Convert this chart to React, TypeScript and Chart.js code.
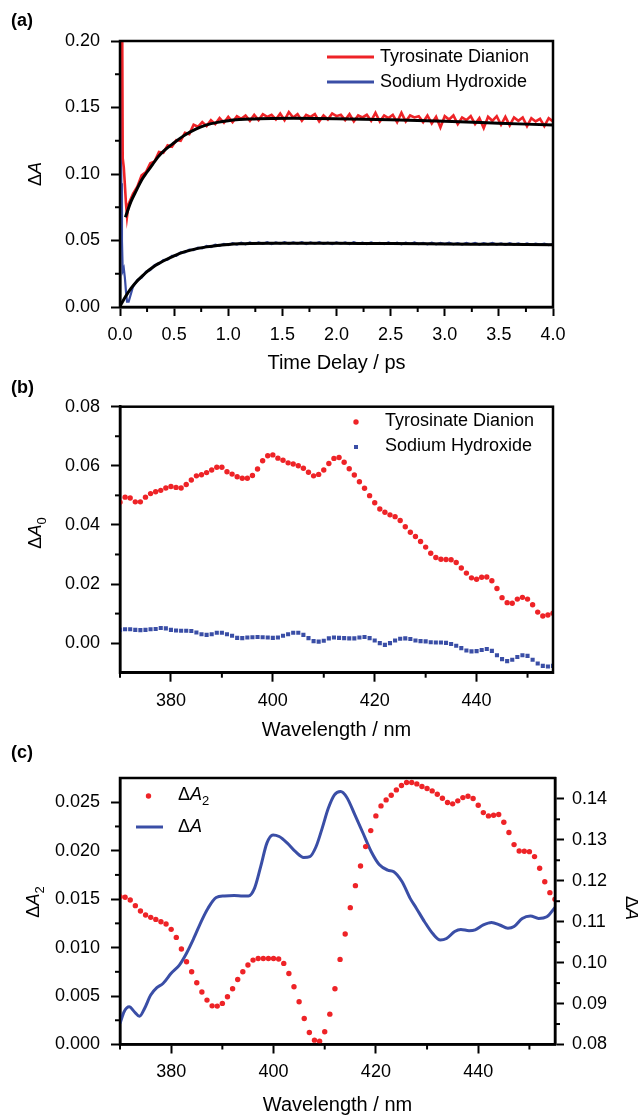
import React, { useEffect, useRef } from 'react';
import { Chart, registerables } from 'chart.js';

Chart.register(...registerables);

const FONT = '"Liberation Sans", Arial, Helvetica, sans-serif';
const RED = '#ee2327';
const BLUE = '#3a4ea6';

// ---------- Panel (a): kinetics ----------
const TIME_EARLY = [0.005, 0.012, 0.018, 0.025, 0.035, 0.045, 0.055, 0.065];
const TIME_MAIN = [
  0.08, 0.12, 0.16, 0.2, 0.24, 0.28, 0.32, 0.36, 0.4, 0.44,
  0.48, 0.52, 0.56, 0.6, 0.64, 0.68, 0.72, 0.76, 0.8, 0.84,
  0.88, 0.92, 0.96, 1, 1.04, 1.08, 1.12, 1.16, 1.2, 1.24,
  1.28, 1.32, 1.36, 1.4, 1.44, 1.48, 1.52, 1.56, 1.6, 1.64,
  1.68, 1.72, 1.76, 1.8, 1.84, 1.88, 1.92, 1.96, 2, 2.04,
  2.08, 2.12, 2.16, 2.2, 2.24, 2.28, 2.32, 2.36, 2.4, 2.44,
  2.48, 2.52, 2.56, 2.6, 2.64, 2.68, 2.72, 2.76, 2.8, 2.84,
  2.88, 2.92, 2.96, 3, 3.04, 3.08, 3.12, 3.16, 3.2, 3.24,
  3.28, 3.32, 3.36, 3.4, 3.44, 3.48, 3.52, 3.56, 3.6, 3.64,
  3.68, 3.72, 3.76, 3.8, 3.84, 3.88, 3.92, 3.96, 4,
];
const TYR_EARLY = [0.30, 0.30, 0.26, 0.112, 0.105, 0.092, 0.078, 0.068];
const TYR_MAIN = [
  0.0775, 0.0850, 0.0905, 0.0990, 0.1015, 0.1080, 0.1095, 0.1165, 0.1160, 0.1215,
  0.1205, 0.1255, 0.1250, 0.1310, 0.1300, 0.1370, 0.1355, 0.1390, 0.1360, 0.1405,
  0.1375, 0.1420, 0.1385, 0.1430, 0.1390, 0.1435, 0.1415, 0.1440, 0.1400, 0.1445,
  0.1405, 0.1450, 0.1430, 0.1445, 0.1410, 0.1455, 0.1405, 0.1465, 0.1425, 0.1450,
  0.1400, 0.1445, 0.1430, 0.1450, 0.1395, 0.1440, 0.1410, 0.1455, 0.1435, 0.1445,
  0.1405, 0.1450, 0.1395, 0.1440, 0.1425, 0.1445, 0.1400, 0.1460, 0.1395, 0.1440,
  0.1420, 0.1445, 0.1390, 0.1460, 0.1395, 0.1440, 0.1425, 0.1435, 0.1390, 0.1440,
  0.1380, 0.1430, 0.1350, 0.1435, 0.1410, 0.1440, 0.1375, 0.1425, 0.1405, 0.1435,
  0.1375, 0.1420, 0.1345, 0.1430, 0.1400, 0.1435, 0.1370, 0.1430, 0.1365, 0.1425,
  0.1400, 0.1425, 0.1360, 0.1420, 0.1395, 0.1415, 0.1360, 0.1420, 0.1395,
];
const NAOH_EARLY = [0.26, 0.093, 0.05, 0.027, 0.029, 0.022, 0.012, 0.004];
const NAOH_MAIN = [
  0.0040, 0.0152, 0.0202, 0.0220, 0.0265, 0.0278, 0.0316, 0.0323, 0.0353, 0.0356,
  0.0384, 0.0385, 0.0411, 0.0411, 0.0432, 0.0428, 0.0447, 0.0441, 0.0459, 0.0451,
  0.0468, 0.0460, 0.0475, 0.0465, 0.0479, 0.0469, 0.0483, 0.0472, 0.0485, 0.0474,
  0.0486, 0.0475, 0.0487, 0.0474, 0.0485, 0.0476, 0.0488, 0.0475, 0.0486, 0.0477,
  0.0487, 0.0474, 0.0485, 0.0476, 0.0488, 0.0475, 0.0484, 0.0473, 0.0486, 0.0476,
  0.0485, 0.0474, 0.0487, 0.0475, 0.0484, 0.0473, 0.0486, 0.0476, 0.0483, 0.0473,
  0.0485, 0.0474, 0.0484, 0.0472, 0.0483, 0.0474, 0.0485, 0.0473, 0.0482, 0.0472,
  0.0483, 0.0471, 0.0482, 0.0473, 0.0484, 0.0472, 0.0481, 0.0470, 0.0482, 0.0472,
  0.0481, 0.0469, 0.0480, 0.0471, 0.0482, 0.0470, 0.0479, 0.0468, 0.0480, 0.0470,
  0.0479, 0.0468, 0.0478, 0.0467, 0.0477, 0.0469, 0.0476, 0.0466, 0.0474,
];
const TYR_FIT_T = [0.05, 0.1, 0.15, 0.2, 0.25, 0.3, 0.35, 0.4, 0.5, 0.6, 0.7, 0.8, 0.9, 1.0, 1.1, 1.2, 1.4, 1.6, 1.8, 2.0, 2.5, 3.0, 3.5, 4.0];
const TYR_FIT = [0.0675, 0.079, 0.0875, 0.0955, 0.1015, 0.1071, 0.1127, 0.117, 0.1235, 0.1293, 0.1338, 0.1369, 0.1388, 0.1401, 0.1409, 0.1414, 0.1418, 0.1419, 0.1418, 0.1416, 0.1408, 0.1396, 0.1382, 0.1368];
const NAOH_FIT_T = [0.0, 0.05, 0.1, 0.15, 0.2, 0.25, 0.3, 0.35, 0.4, 0.5, 0.6, 0.7, 0.8, 0.9, 1.0, 1.1, 1.2, 1.4, 1.6, 1.8, 2.0, 2.5, 3.0, 3.5, 4.0];
const NAOH_FIT = [0.0005, 0.0077, 0.0138, 0.0188, 0.0228, 0.0266, 0.0297, 0.0324, 0.0346, 0.0385, 0.0416, 0.0437, 0.0452, 0.0463, 0.047, 0.0475, 0.0478, 0.048, 0.048, 0.048, 0.0479, 0.0477, 0.0474, 0.0471, 0.0468];

const A_X_TICKS = [0, 0.5, 1, 1.5, 2, 2.5, 3, 3.5, 4];
const A_X_MINOR = [0.25, 0.75, 1.25, 1.75, 2.25, 2.75, 3.25, 3.75];
const A_Y_TICKS = [0, 0.05, 0.1, 0.15, 0.2];
const A_Y_MINOR = [0.025, 0.075, 0.125, 0.175];

// ---------- Panels (b) and (c): spectra ----------
const WL = [
  370, 371, 372, 373, 374, 375, 376, 377, 378, 379,
  380, 381, 382, 383, 384, 385, 386, 387, 388, 389,
  390, 391, 392, 393, 394, 395, 396, 397, 398, 399,
  400, 401, 402, 403, 404, 405, 406, 407, 408, 409,
  410, 411, 412, 413, 414, 415, 416, 417, 418, 419,
  420, 421, 422, 423, 424, 425, 426, 427, 428, 429,
  430, 431, 432, 433, 434, 435, 436, 437, 438, 439,
  440, 441, 442, 443, 444, 445, 446, 447, 448, 449,
  450, 451, 452, 453, 454, 455,
];
const B_TYR = [
  0.0477, 0.0494, 0.0491, 0.0478, 0.0478, 0.0494, 0.0506, 0.0512, 0.0517, 0.0525,
  0.0530, 0.0527, 0.0525, 0.0537, 0.0552, 0.0566, 0.0570, 0.0577, 0.0586, 0.0595,
  0.0595, 0.0580, 0.0572, 0.0563, 0.0558, 0.0558, 0.0567, 0.0589, 0.0617, 0.0634,
  0.0637, 0.0626, 0.0619, 0.0610, 0.0606, 0.0600, 0.0592, 0.0578, 0.0566, 0.0571,
  0.0586, 0.0608, 0.0625, 0.0628, 0.0612, 0.0590, 0.0569, 0.0546, 0.0524, 0.0499,
  0.0475, 0.0454, 0.0443, 0.0434, 0.0428, 0.0415, 0.0394, 0.0375, 0.0361, 0.0344,
  0.0325, 0.0304, 0.0290, 0.0284, 0.0283, 0.0282, 0.0273, 0.0254, 0.0237, 0.0221,
  0.0216, 0.0223, 0.0224, 0.0211, 0.0185, 0.0154, 0.0137, 0.0135, 0.0149, 0.0155,
  0.0149, 0.0130, 0.0105, 0.0092, 0.0095, 0.0101,
];
const B_NAOH = [
  0.0045, 0.0047, 0.0047, 0.0045, 0.0044, 0.0045, 0.0047, 0.0048, 0.0051, 0.0050,
  0.0045, 0.0043, 0.0042, 0.0042, 0.0041, 0.0036, 0.0030, 0.0028, 0.0030, 0.0035,
  0.0035, 0.0030, 0.0025, 0.0018, 0.0017, 0.0019, 0.0020, 0.0021, 0.0020, 0.0019,
  0.0018, 0.0019, 0.0025, 0.0030, 0.0035, 0.0035, 0.0028, 0.0017, 0.0007, 0.0005,
  0.0008, 0.0016, 0.0019, 0.0018, 0.0017, 0.0016, 0.0016, 0.0019, 0.0021, 0.0017,
  0.0009, 0.0000, -0.0006, 0.0000, 0.0009, 0.0015, 0.0016, 0.0014, 0.0009, 0.0007,
  0.0006, 0.0003, 0.0002, 0.0002, 0.0001, -0.0003, -0.0009, -0.0017, -0.0025, -0.0028,
  -0.0027, -0.0023, -0.0020, -0.0026, -0.0041, -0.0054, -0.0061, -0.0056, -0.0047, -0.0041,
  -0.0043, -0.0056, -0.0069, -0.0077, -0.0079, -0.0077,
];
const C_DA2 = [
  0.01525, 0.01519, 0.01491, 0.01433, 0.01377, 0.01336, 0.01312, 0.01291, 0.01267, 0.01243,
  0.01188, 0.01105, 0.00985, 0.00854, 0.00751, 0.00637, 0.00541, 0.00458, 0.00399, 0.00396,
  0.00424, 0.00492, 0.00575, 0.00671, 0.00751, 0.00820, 0.00871, 0.00888, 0.00888, 0.00888,
  0.00888, 0.00882, 0.00837, 0.00733, 0.00596, 0.00441, 0.00269, 0.00124, 0.00045, 0.00034,
  0.00131, 0.00313, 0.00575, 0.00878, 0.01140, 0.01412, 0.01639, 0.01842, 0.02042, 0.02207,
  0.02359, 0.02462, 0.02524, 0.02572, 0.02627, 0.02672, 0.02703, 0.02703, 0.02689, 0.02662,
  0.02641, 0.02617, 0.02583, 0.02541, 0.02497, 0.02483, 0.02514, 0.02548, 0.02562, 0.02538,
  0.02469, 0.02393, 0.02359, 0.02366, 0.02373, 0.02293, 0.02187, 0.02063, 0.01997, 0.01994,
  0.01990, 0.01939, 0.01818, 0.01680, 0.01567, 0.01500,
];
const C_LINE_WL = [
  370, 370.8, 371.8, 372.8, 373.8, 374.8, 376, 377.2, 378.4, 380,
  381.6, 383, 384.4, 386, 387.2, 388.8, 390.4, 392.3, 394, 395.1,
  396.3, 397.5, 398.7, 399.9, 401.1, 402.7, 404.3, 405.9, 407.1, 408.3,
  409.5, 410.7, 411.9, 413.1, 414.3, 415.9, 417.5, 419.1, 420.7, 422.3,
  423.5, 425.1, 426.7, 427.9, 429.5, 431.1, 432.6, 433.8, 435.4, 436.6,
  438.2, 439.4, 441, 442.6, 444.2, 445.8, 447, 448.6, 450.2, 451.8,
  453.4, 455,
];
const C_DA = [
  0.0851, 0.0880, 0.0892, 0.0880, 0.0869, 0.0888, 0.0921, 0.0939, 0.0949, 0.0974,
  0.0994, 0.1023, 0.1059, 0.1104, 0.1133, 0.1159, 0.1163, 0.1164, 0.1163, 0.1163,
  0.1182, 0.1235, 0.1292, 0.1312, 0.1308, 0.1292, 0.1271, 0.1257, 0.1259, 0.1283,
  0.1328, 0.1377, 0.1410, 0.1418, 0.1404, 0.1361, 0.1316, 0.1271, 0.1239, 0.1226,
  0.1222, 0.1198, 0.1157, 0.1133, 0.1100, 0.1071, 0.1055, 0.1059, 0.1076, 0.1081,
  0.1078, 0.1080, 0.1092, 0.1098, 0.1092, 0.1084, 0.1088, 0.1108, 0.1114, 0.1108,
  0.1112, 0.1135,
];

const WL_TICKS = [380, 400, 420, 440];
const WL_MINOR = [370, 390, 410, 430, 450];
const B_Y_TICKS = [0, 0.02, 0.04, 0.06, 0.08];
const B_Y_MINOR = [0.01, 0.03, 0.05, 0.07];
const C_Y_TICKS = [0, 0.005, 0.01, 0.015, 0.02, 0.025];
const C_Y_MINOR = [0.0025, 0.0075, 0.0125, 0.0175, 0.0225];
const C_Y1_TICKS = [0.08, 0.09, 0.1, 0.11, 0.12, 0.13, 0.14];
const C_Y1_MINOR = [0.085, 0.095, 0.105, 0.115, 0.125, 0.135];

// ---------- helpers ----------
type Part = { t: string; it?: boolean; sub?: boolean; bold?: boolean };
type TextItem = { parts: Part[]; x: number; y: number; size: number; rot?: number; align?: 'left' | 'center' };
type Mark = { kind: 'line' | 'dot' | 'rect'; color: string; x: number; y: number; w?: number };

function fontOf(p: Part, size: number) {
  const s = p.sub ? Math.round(size * 0.7) : size;
  return `${p.it ? 'italic ' : ''}${p.bold ? 'bold ' : ''}${s}px ${FONT}`;
}

function drawRich(ctx: CanvasRenderingContext2D, item: TextItem) {
  ctx.save();
  ctx.translate(item.x, item.y);
  ctx.rotate(item.rot || 0);
  ctx.textBaseline = 'middle';
  ctx.textAlign = 'left';
  ctx.fillStyle = '#000';
  const widths = item.parts.map((p) => {
    ctx.font = fontOf(p, item.size);
    return ctx.measureText(p.t).width;
  });
  const total = widths.reduce((a, b) => a + b, 0);
  let cx = item.align === 'center' ? -total / 2 : 0;
  item.parts.forEach((p, i) => {
    ctx.font = fontOf(p, item.size);
    ctx.fillText(p.t, cx, p.sub ? item.size * 0.35 : 0);
    cx += widths[i];
  });
  ctx.restore();
}

function decor(minor: Record<string, number[]>, texts: TextItem[], marks: Mark[]) {
  return {
    id: 'decor',
    afterDraw(chart: any) {
      const { ctx, chartArea: a } = chart;
      ctx.save();
      ctx.strokeStyle = '#000';
      ctx.lineWidth = 2.5;
      ctx.strokeRect(a.left, a.top, a.right - a.left, a.bottom - a.top);
      ctx.lineWidth = 2;
      Object.keys(minor).forEach((id) => {
        const s = chart.scales[id];
        minor[id].forEach((v) => {
          const p = s.getPixelForValue(v);
          ctx.beginPath();
          if (s.isHorizontal()) {
            ctx.moveTo(p, a.bottom);
            ctx.lineTo(p, a.bottom + 5);
          } else if (s.position === 'left') {
            ctx.moveTo(a.left, p);
            ctx.lineTo(a.left - 5, p);
          } else {
            ctx.moveTo(a.right, p);
            ctx.lineTo(a.right + 5, p);
          }
          ctx.stroke();
        });
      });
      marks.forEach((m) => {
        ctx.fillStyle = m.color;
        ctx.strokeStyle = m.color;
        if (m.kind === 'line') {
          ctx.lineWidth = 3;
          ctx.beginPath();
          ctx.moveTo(m.x, m.y);
          ctx.lineTo(m.x + (m.w || 40), m.y);
          ctx.stroke();
        } else if (m.kind === 'dot') {
          ctx.beginPath();
          ctx.arc(m.x, m.y, 2.7, 0, Math.PI * 2);
          ctx.fill();
        } else {
          ctx.fillRect(m.x - 2, m.y - 2, 4, 4);
        }
      });
      texts.forEach((t) => drawRich(ctx, t));
      ctx.restore();
    },
  };
}

const pts = (xs: number[], ys: number[]) => xs.map((x, i) => ({ x, y: ys[i] }));

function tickCfg(ticks: number[], digits: number, padding: number) {
  return {
    afterBuildTicks: (ax: any) => {
      ax.ticks = ticks.map((v) => ({ value: v }));
    },
    grid: { drawOnChartArea: false, drawTicks: true, tickLength: 9, tickWidth: 2, tickColor: '#000' },
    border: { display: true, color: '#000', width: 2.5 },
    ticks: {
      color: '#000',
      font: { family: FONT, size: 18, lineHeight: 1 },
      padding,
      autoSkip: false,
      maxRotation: 0,
      callback: (v: any) => Number(v).toFixed(digits),
    },
  };
}

function xAxis(min: number, max: number, ticks: number[], digits: number, title: string, height: number) {
  return {
    type: 'linear',
    position: 'bottom',
    min,
    max,
    ...tickCfg(ticks, digits, 10),
    afterFit: (ax: any) => {
      ax.height = height;
    },
    title: { display: true, text: title, color: '#000', font: { family: FONT, size: 20, lineHeight: 1 }, padding: 0 },
  };
}

function yAxis(min: number, max: number, ticks: number[], digits: number, position: 'left' | 'right', width: number) {
  return {
    type: 'linear',
    position,
    min,
    max,
    ...tickCfg(ticks, digits, position === 'left' ? 11 : 8),
    afterFit: (ax: any) => {
      ax.width = width;
    },
  };
}

const baseOptions = {
  responsive: false,
  animation: false,
  events: [],
  plugins: { legend: { display: false }, tooltip: { enabled: false } },
};

function configA(): any {
  const t = [...TIME_EARLY, ...TIME_MAIN];
  return {
    type: 'line',
    data: {
      datasets: [
        { data: pts(TYR_FIT_T, TYR_FIT), borderColor: '#000', borderWidth: 3, pointRadius: 0, cubicInterpolationMode: 'monotone', order: 0, clip: 0 },
        { data: pts(NAOH_FIT_T, NAOH_FIT), borderColor: '#000', borderWidth: 3, pointRadius: 0, cubicInterpolationMode: 'monotone', order: 0, clip: 0 },
        { data: pts(t, [...TYR_EARLY, ...TYR_MAIN]), borderColor: RED, borderWidth: 2.6, pointRadius: 0, tension: 0, order: 1, clip: 0 },
        { data: pts(t, [...NAOH_EARLY, ...NAOH_MAIN]), borderColor: BLUE, borderWidth: 2.2, pointRadius: 0, tension: 0, order: 2, clip: 0 },
      ],
    },
    options: {
      ...baseOptions,
      layout: { padding: { top: 41, right: 85, bottom: 7, left: 0 } },
      scales: {
        x: xAxis(0, 4, A_X_TICKS, 1, 'Time Delay / ps', 66),
        y: yAxis(0, 0.2, A_Y_TICKS, 2, 'left', 120),
      },
    },
    plugins: [
      decor(
        { x: A_X_MINOR, y: A_Y_MINOR },
        [
          { parts: [{ t: '(a)', bold: true }], x: 11, y: 21, size: 18 },
          { parts: [{ t: 'Δ' }, { t: 'A', it: true }], x: 36, y: 174, size: 18, rot: -Math.PI / 2, align: 'center' },
          { parts: [{ t: 'Tyrosinate Dianion' }], x: 380, y: 57, size: 18 },
          { parts: [{ t: 'Sodium Hydroxide' }], x: 380, y: 82, size: 18 },
        ],
        [
          { kind: 'line', color: RED, x: 327, y: 57, w: 47 },
          { kind: 'line', color: BLUE, x: 327, y: 82, w: 47 },
        ],
      ),
    ],
  };
}

function configB(): any {
  return {
    type: 'line',
    data: {
      datasets: [
        { data: pts(WL, B_TYR), showLine: false, pointRadius: 2.7, pointBorderWidth: 0, pointBackgroundColor: RED, pointStyle: 'circle', clip: 0 },
        { data: pts(WL, B_NAOH), showLine: false, pointRadius: 2.9, pointBorderWidth: 0, pointBackgroundColor: BLUE, pointStyle: 'rect', clip: 0 },
      ],
    },
    options: {
      ...baseOptions,
      layout: { padding: { top: 34.7, right: 85, bottom: 5, left: 0 } },
      scales: {
        x: xAxis(370, 455, WL_TICKS, 0, 'Wavelength / nm', 67.3),
        y: yAxis(-0.01, 0.08, B_Y_TICKS, 2, 'left', 120),
      },
    },
    plugins: [
      decor(
        { x: WL_MINOR, y: B_Y_MINOR },
        [
          { parts: [{ t: '(b)', bold: true }], x: 11, y: 16, size: 18 },
          { parts: [{ t: 'Δ' }, { t: 'A', it: true }, { t: '0', sub: true }], x: 36, y: 161, size: 18, rot: -Math.PI / 2, align: 'center' },
          { parts: [{ t: 'Tyrosinate Dianion' }], x: 385, y: 49, size: 18 },
          { parts: [{ t: 'Sodium Hydroxide' }], x: 385, y: 74, size: 18 },
        ],
        [
          { kind: 'dot', color: RED, x: 356, y: 50 },
          { kind: 'rect', color: BLUE, x: 356, y: 75 },
        ],
      ),
    ],
  };
}

function configC(): any {
  return {
    type: 'line',
    data: {
      datasets: [
        { data: pts(WL, C_DA2), yAxisID: 'y', showLine: false, pointRadius: 2.7, pointBorderWidth: 0, pointBackgroundColor: RED, order: 0, clip: 0 },
        { data: pts(C_LINE_WL, C_DA), yAxisID: 'y1', borderColor: BLUE, borderWidth: 3, pointRadius: 0, cubicInterpolationMode: 'monotone', order: 1, clip: 0 },
      ],
    },
    options: {
      ...baseOptions,
      layout: { padding: { top: 41, right: 0, bottom: 0, left: 0 } },
      scales: {
        x: xAxis(370, 455, WL_TICKS, 0, 'Wavelength / nm', 70.5),
        y: yAxis(0, 0.0275, C_Y_TICKS, 3, 'left', 120),
        y1: yAxis(0.08, 0.1451, C_Y1_TICKS, 2, 'right', 83),
      },
    },
    plugins: [
      decor(
        { x: WL_MINOR, y: C_Y_MINOR, y1: C_Y1_MINOR },
        [
          { parts: [{ t: '(c)', bold: true }], x: 11, y: 16, size: 18 },
          { parts: [{ t: 'Δ' }, { t: 'A', it: true }, { t: '2', sub: true }], x: 34, y: 165, size: 18, rot: -Math.PI / 2, align: 'center' },
          { parts: [{ t: 'Δ' }, { t: 'A', it: true }], x: 631, y: 171, size: 18, rot: Math.PI / 2, align: 'center' },
          { parts: [{ t: 'Δ' }, { t: 'A', it: true }, { t: '2', sub: true }], x: 178, y: 58, size: 18 },
          { parts: [{ t: 'Δ' }, { t: 'A', it: true }], x: 178, y: 90, size: 18 },
        ],
        [
          { kind: 'dot', color: RED, x: 148.5, y: 59 },
          { kind: 'line', color: BLUE, x: 136, y: 90, w: 27 },
        ],
      ),
    ],
  };
}

export default function App() {
  const refA = useRef<HTMLCanvasElement>(null);
  const refB = useRef<HTMLCanvasElement>(null);
  const refC = useRef<HTMLCanvasElement>(null);

  useEffect(() => {
    Chart.defaults.font.family = FONT;
    const charts = [
      new Chart(refA.current as HTMLCanvasElement, configA()),
      new Chart(refB.current as HTMLCanvasElement, configB()),
      new Chart(refC.current as HTMLCanvasElement, configC()),
    ];
    return () => charts.forEach((c) => c.destroy());
  }, []);

  const cv = (top: number, height: number): React.CSSProperties => ({
    position: 'absolute',
    left: 0,
    top,
    width: 638,
    height,
    display: 'block',
  });

  return (
    <div style={{ position: 'absolute', left: 0, top: 0, width: 638, height: 1115, background: '#fff', overflow: 'hidden' }}>
      <canvas ref={refA} width={638} height={380} style={cv(0, 380)} />
      <canvas ref={refB} width={638} height={373} style={cv(372, 373)} />
      <canvas ref={refC} width={638} height={378} style={cv(737, 378)} />
    </div>
  );
}
